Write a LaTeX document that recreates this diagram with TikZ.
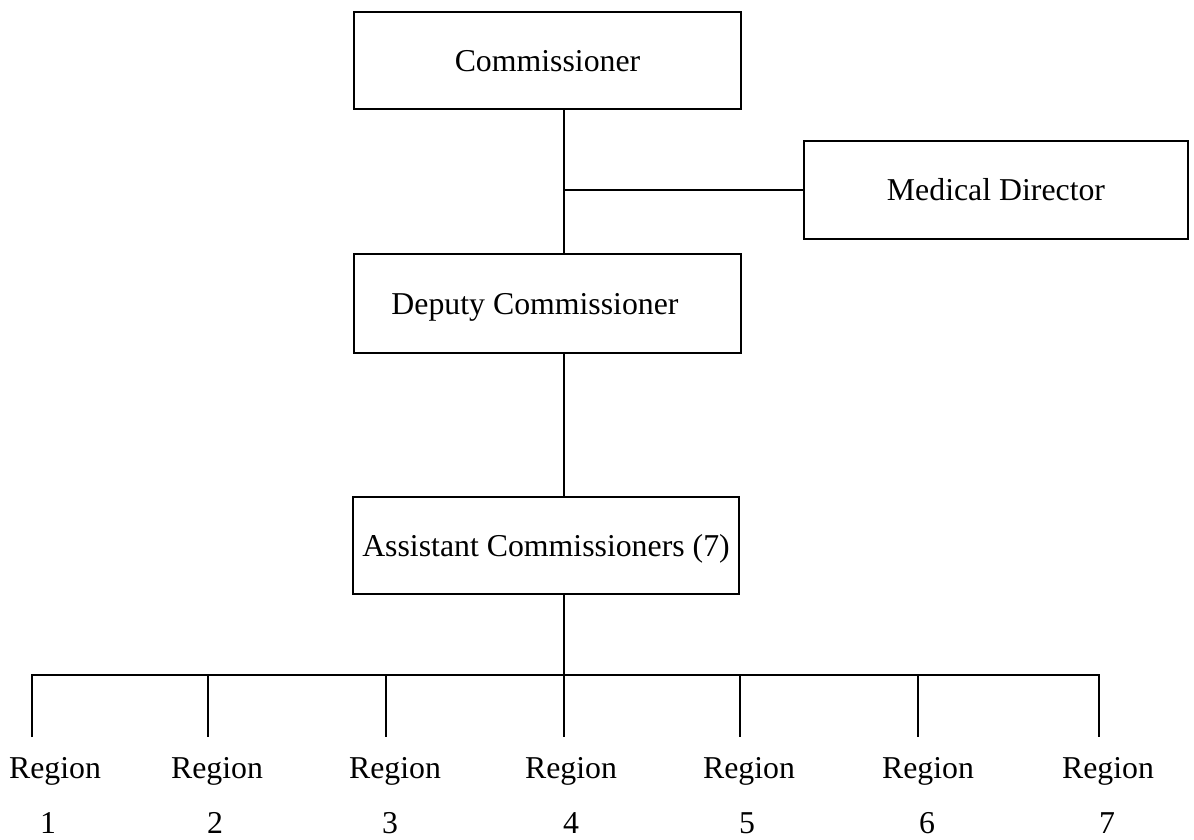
\documentclass[tikz,border=0pt]{standalone}
\usepackage{fontspec}
\setmainfont{Liberation Serif}
\begin{document}
\begin{tikzpicture}[x=1pt,y=-1pt,
  txt/.style={font=\fontsize{31.8}{36}\selectfont, inner sep=0pt, outer sep=0pt},
  box/.style={draw, line width=2.8pt, inner sep=0pt, outer sep=0pt,
    text height=21.5pt, text depth=0pt, font=\fontsize{31.8}{36}\selectfont},
  conn/.style={line width=2.5pt, line join=miter}]
\useasboundingbox (0,0) rectangle (1194,839);
% boxes
\node[box, minimum width=387, minimum height=97] (comm) at (547.5,60.5) {Commissioner};
\node[box, minimum width=384, minimum height=98] (med) at (996,190) {Medical Director};
\node[box, minimum width=387, minimum height=99] (dep) at (547.5,303.5) {};
\node[txt, text height=21.5pt, text depth=0pt] (deptext) at ([xshift=-12.5pt]dep.center) {Deputy Commissioner};
\node[box, minimum width=386, minimum height=97] (asst) at (546,545.5) {Assistant Commissioners (7)};
% spine and bus coordinates
\coordinate (spine) at (564,0);
\coordinate (bus) at (564,675);
\foreach \i/\x in {1/32,2/208,3/386,4/564,5/740,6/918,7/1099}{
  \coordinate (t\i) at (\x,675);
  \coordinate (e\i) at (\x,737);
}
% connectors
\draw[conn] (comm.south -| spine) -- (dep.north -| spine);
\draw[conn] (med.west) -- (med.west -| spine);
\draw[conn] (dep.south -| spine) -- (asst.north -| spine);
\draw[conn] (asst.south -| spine) -- (bus);
\draw[conn] (e1) -- (t1) -- (t7) -- (e7);
\foreach \i in {2,...,6}{ \draw[conn] (t\i) -- (e\i); }
% region labels
\foreach \i/\x/\n in {1/55/48,2/217/215,3/395/390,4/571/571,5/749/747,6/928/927,7/1108/1107}{
  \node[txt, anchor=base] (r\i) at (\x,778) {Region};
  \node[txt, anchor=base] (n\i) at (\n,833) {\i};
}
\end{tikzpicture}
\end{document}
